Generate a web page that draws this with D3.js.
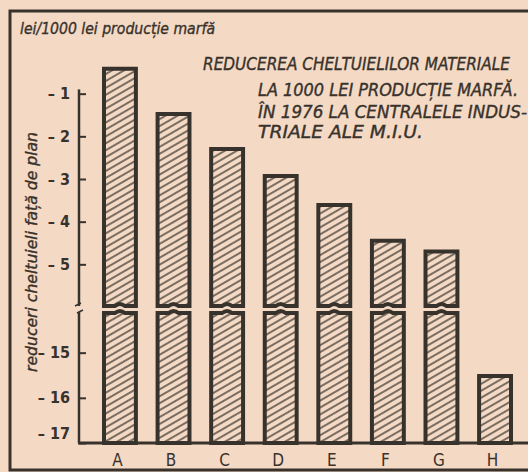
<!DOCTYPE html>
<html>
<head>
<meta charset="utf-8">
<script src="https://cdn.jsdelivr.net/npm/d3@7"></script>
<style>
  html, body { margin: 0; padding: 0; background: #f4d9c4; }
  svg { display: block; }
  text { fill: #38322c; }
</style>
</head>
<body>
<div id="chart"></div>
<script>
// data
const categories = ["A", "B", "C", "D", "E", "F", "G", "H"]
const values = [-0.37, -1.43, -2.25, -2.88, -3.56, -4.40, -4.65, -15.47]
const upperTicks = [-1, -2, -3, -4, -5]
const lowerTicks = [-15, -16, -17]
const titleLines = [
  "REDUCEREA CHELTUIELILOR MATERIALE",
  "LA 1000 LEI PRODUCȚIE MARFĂ.",
  "ÎN 1976 LA CENTRALELE INDUS-",
  "TRIALE ALE M.I.U."
]
const unitLabel = "lei/1000 lei producție marfă"
const axisTitle = "reduceri cheltuieli față de plan"

const ink = "#38322c"
const paper = "#f4d9c4"
const width = 528, height = 472
const axisX = 79

const svg = d3.select("#chart").append("svg")
  .attr("width", width)
  .attr("height", height)

// hatching
svg.append("defs").append("pattern")
  .attr("id", "hatch")
  .attr("patternUnits", "userSpaceOnUse")
  .attr("width", 8).attr("height", 6)
  .attr("patternTransform", "rotate(-30)")
  .call(p => {
    p.append("rect").attr("width", 8).attr("height", 6).attr("fill", paper)
    p.append("line").attr("x1", 0).attr("x2", 8).attr("y1", 3).attr("y2", 3)
      .attr("stroke", ink).attr("stroke-width", 1.3)
  })

// frame
svg.append("rect").attr("width", width).attr("height", height).attr("fill", paper)
svg.append("path")
  .attr("d", `M${width},11 H10 V470 H${width}`)
  .attr("fill", "none").attr("stroke", ink).attr("stroke-width", 3)

// scales (broken axis: two segments)
const yTop = d3.scaleLinear().domain([0, -6]).range([51, 307])
const yBot = d3.scaleLinear().domain([-14.1, -17]).range([312, 443])
const x = d3.scaleBand().domain(categories).range([102, 513]).paddingInner(0.33).paddingOuter(0)

// bar segment path with a little wave on broken edges
const seg = (x0, x1, top, bottom, waveTop, waveBottom) => {
  let w = x1 - x0, m = x0 + w * 0.5
  let p = `M${x0},${top}`
  if (waveTop) p += ` L${m - 5},${top} Q${m},${top - 4} ${m + 5},${top}`
  p += ` L${x1},${top} L${x1},${bottom}`
  if (waveBottom) p += ` L${m + 5},${bottom} Q${m},${bottom - 4} ${m - 5},${bottom}`
  p += ` L${x0},${bottom} Z`
  return p
}

const bars = svg.append("g")
  .attr("fill", "url(#hatch)")
  .attr("stroke", ink)
  .attr("stroke-width", 4)
  .attr("stroke-linejoin", "miter")

values.forEach((v, i) => {
  let x0 = x(categories[i]) + 2, x1 = x(categories[i]) + x.bandwidth() - 2
  if (v >= yTop.domain()[1]) {
    bars.append("path").attr("d", seg(x0, x1, yTop(v) + 2, yTop.range()[1] - 1, false, true))
    bars.append("path").attr("d", seg(x0, x1, yBot.range()[0] + 1, yBot.range()[1], true, false))
  } else {
    bars.append("path").attr("d", seg(x0, x1, yBot(v) + 2, yBot.range()[1], false, false))
  }
})

// y axis
const tickFmt = d => "– " + Math.abs(d)
const axisStyle = g => {
  g.select(".domain").remove()
  g.selectAll(".tick line").attr("stroke", ink).attr("stroke-width", 2)
  g.selectAll(".tick text")
    .attr("font-family", "DejaVu Sans Condensed")
    .attr("font-weight", "bold")
    .attr("font-size", 16)
    .attr("fill", ink)
}

svg.append("g")
  .attr("transform", `translate(${axisX},0)`)
  .call(d3.axisLeft(yTop).tickValues(upperTicks).tickSizeInner(-7).tickSizeOuter(0).tickPadding(9).tickFormat(tickFmt))
  .call(axisStyle)

svg.append("g")
  .attr("transform", `translate(${axisX},0)`)
  .call(d3.axisLeft(yBot).tickValues(lowerTicks).tickSizeInner(-7).tickSizeOuter(0).tickPadding(9).tickFormat(tickFmt))
  .call(axisStyle)
  .call(g => g.selectAll(".tick text").filter(d => d === -17).attr("dy", "-0.3em"))

const axisLines = svg.append("g").attr("stroke", ink).attr("stroke-width", 2.5).attr("fill", "none")
axisLines.append("line").attr("x1", axisX).attr("x2", axisX)
  .attr("y1", yTop(-0.9)).attr("y2", yTop.range()[1] - 1)
axisLines.append("line").attr("x1", axisX).attr("x2", axisX)
  .attr("y1", yBot.range()[0]).attr("y2", yBot.range()[1])
axisLines.append("path")
  .attr("stroke-width", 1.5)
  .attr("d", `M${axisX - 4},${yTop.range()[1] - 1} L${axisX + 2},${yTop.range()[1] - 4} M${axisX - 2},${yBot.range()[0] + 1} L${axisX + 4},${yBot.range()[0] - 2}`)

// baseline
svg.append("line")
  .attr("x1", axisX - 1).attr("x2", width)
  .attr("y1", yBot.range()[1]).attr("y2", yBot.range()[1])
  .attr("stroke", ink).attr("stroke-width", 3)

// category labels
svg.append("g")
  .attr("transform", `translate(0,${yBot.range()[1]})`)
  .call(d3.axisBottom(x).tickSize(0).tickPadding(11))
  .call(g => g.select(".domain").remove())
  .call(g => g.selectAll(".tick text")
    .attr("font-family", "DejaVu Sans Condensed")
    .attr("font-size", 17)
    .attr("fill", ink)
    .attr("dx", "-0.15em"))

// texts
const heavy = sel => sel.attr("stroke", ink).attr("stroke-width", 0.35)

svg.append("text")
  .attr("x", 20).attr("y", 34)
  .attr("font-family", "DejaVu Sans Condensed")
  .attr("font-style", "italic")
  .attr("font-size", 16)
  .attr("textLength", 195).attr("lengthAdjust", "spacingAndGlyphs")
  .call(heavy)
  .text(unitLabel)

const titleX = [203, 258, 258, 258]
const titleY = [70, 96, 118, 138]
const titleW = [307, 260, 269, 165]
svg.append("g")
  .attr("font-family", "DejaVu Sans Condensed")
  .attr("font-style", "italic")
  .attr("font-size", 17)
  .call(heavy)
  .selectAll("text")
  .data(titleLines)
  .join("text")
  .attr("x", (d, i) => titleX[i])
  .attr("y", (d, i) => titleY[i])
  .attr("textLength", (d, i) => titleW[i])
  .attr("lengthAdjust", "spacingAndGlyphs")
  .text(d => d)

svg.append("text")
  .attr("transform", "translate(37,372) rotate(-90)")
  .attr("font-family", "DejaVu Sans Condensed")
  .attr("font-style", "italic")
  .attr("font-size", 16)
  .attr("textLength", 240).attr("lengthAdjust", "spacingAndGlyphs")
  .call(heavy)
  .text(axisTitle)
</script>
</body>
</html>
